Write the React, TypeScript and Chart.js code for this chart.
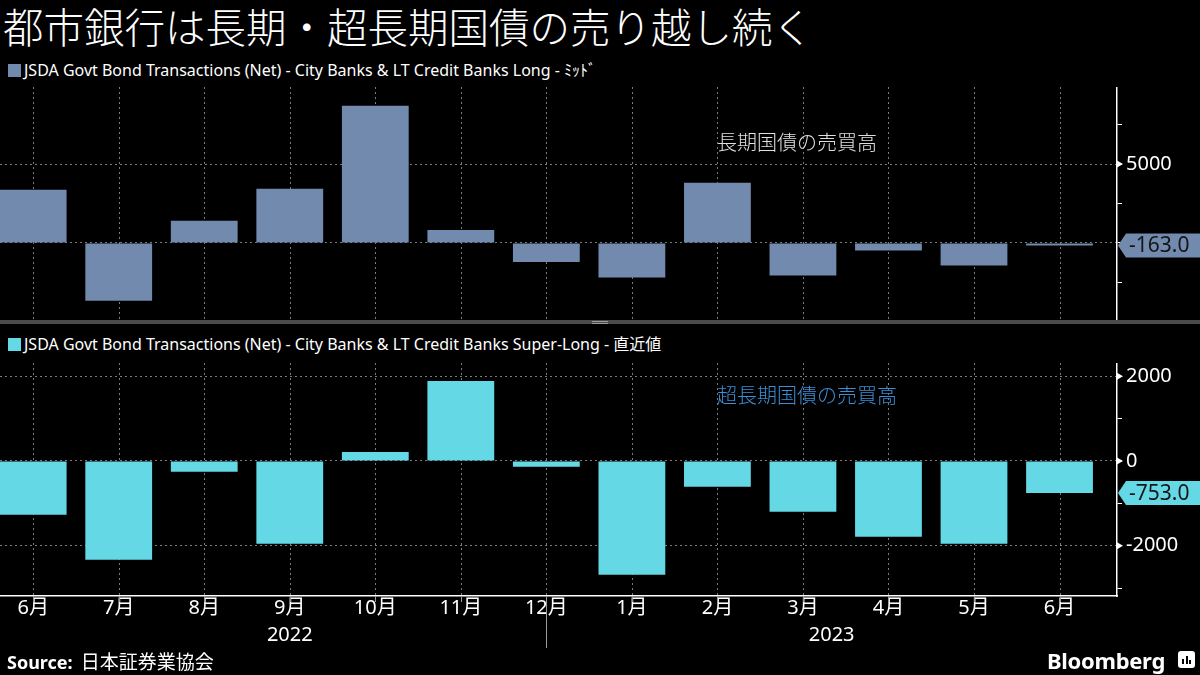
import React, { useEffect, useRef } from 'react';
import { Chart, registerables } from 'chart.js';
Chart.register(...registerables);

const months = ['6月', '7月', '8月', '9月', '10月', '11月', '12月', '1月', '2月', '3月', '4月', '5月', '6月'];
const years = ['2022', '2023'];
const longValues = [3369, -3665, 1398, 3432, 8708, 826, -1208, -2203, 3814, -2076, -487, -1441, -163];
const superLongValues = [-1268, -2331, -252, -1953, 213, 1890, -134, -2685, -606, -1197, -1787, -1953, -753];
const longTicks = [-2500, 0, 2500, 5000, 7500];
const longLabeled = [5000];
const longGrid = [0, 5000];
const superTicks = [-3000, -2000, -1000, 0, 1000, 2000];
const superLabeled = [-2000, 0, 2000];
const superGrid = [-2000, 0, 2000];

const LONG_COLOR = '#718aad';
const SUPER_COLOR = '#65d8e5';
const GRID_COLOR = '#7a7a7a';
const FONT = '"Noto Sans", "Noto Sans CJK JP", sans-serif';
const X_MIN = -0.388;
const X_MAX = 12.672;

type Cfg = {
  values: number[];
  color: string;
  yMin: number;
  yMax: number;
  yTicks: number[];
  labeled: number[];
  grid: number[];
  showX: boolean;
};

function makeConfig(c: Cfg): any {
  const decor = {
    id: 'decor',
    beforeDatasetsDraw(chart: any) {
      // vertical dashed gridlines at month centres
      const { ctx, chartArea, scales } = chart;
      const x = scales.x;
      ctx.save();
      ctx.strokeStyle = GRID_COLOR;
      ctx.lineWidth = 1;
      ctx.setLineDash([2, 3]);
      months.forEach((_, i) => {
        const px = Math.round(x.getPixelForValue(i)) + 0.5;
        ctx.beginPath();
        ctx.moveTo(px, chartArea.top);
        ctx.lineTo(px, chartArea.bottom);
        ctx.stroke();
      });
      ctx.restore();
    },
    afterDraw(chart: any) {
      const { ctx, chartArea, scales } = chart;
      const y = scales.y;
      const x = scales.x;
      ctx.save();
      // arrows at labeled ticks
      ctx.fillStyle = '#ffffff';
      c.labeled.forEach((v) => {
        const py = y.getPixelForValue(v);
        ctx.beginPath();
        ctx.moveTo(chartArea.right, py - 3.5);
        ctx.lineTo(chartArea.right + 6, py);
        ctx.lineTo(chartArea.right, py + 3.5);
        ctx.closePath();
        ctx.fill();
      });
      // last value tag
      const last = c.values[c.values.length - 1];
      const py = y.getPixelForValue(last);
      const left = chartArea.right + 1;
      const h = 24;
      ctx.fillStyle = c.color;
      ctx.beginPath();
      ctx.moveTo(left, py);
      ctx.lineTo(left + 8, py - h / 2);
      ctx.lineTo(chart.width, py - h / 2);
      ctx.lineTo(chart.width, py + h / 2);
      ctx.lineTo(left + 8, py + h / 2);
      ctx.closePath();
      ctx.fill();
      ctx.fillStyle = '#151515';
      ctx.font = '21px ' + FONT;
      ctx.textBaseline = 'middle';
      ctx.textAlign = 'left';
      ctx.fillText(last.toFixed(1), left + 11, py + 1);
      if (c.showX) {
        // month tick marks, year boundary line and year labels
        ctx.strokeStyle = '#9a9a9a';
        ctx.lineWidth = 1;
        months.forEach((_, i) => {
          const px = Math.round(x.getPixelForValue(i)) + 0.5;
          ctx.beginPath();
          ctx.moveTo(px, chartArea.bottom);
          ctx.lineTo(px, chartArea.bottom + (i === 6 ? 52 : 6));
          ctx.stroke();
        });
        const sep = x.getPixelForValue(6);
        ctx.fillStyle = '#ffffff';
        ctx.textAlign = 'center';
        ctx.font = '20px ' + FONT;
        ctx.fillText(years[0], x.getPixelForValue(3), chartArea.bottom + 39);
        ctx.fillText(years[1], (sep + chartArea.right) / 2, chartArea.bottom + 39);
      }
      ctx.restore();
    },
  };

  const noPad = (s: any) => {
    s.paddingTop = 0;
    s.paddingBottom = 0;
    s.paddingLeft = 0;
    s.paddingRight = 0;
  };

  return {
    type: 'bar',
    data: {
      datasets: [
        {
          data: c.values.map((v, i) => ({ x: i, y: v })),
          backgroundColor: c.color,
          borderWidth: 0,
          barPercentage: 0.781,
          categoryPercentage: 1,
        },
      ],
    },
    options: {
      animation: false,
      responsive: false,
      maintainAspectRatio: false,
      layout: { padding: 0 },
      plugins: { legend: { display: false }, tooltip: { enabled: false } },
      scales: {
        x: {
          type: 'linear',
          offset: false,
          min: X_MIN,
          max: X_MAX,
          afterBuildTicks: (s: any) => {
            s.ticks = months.map((_, i) => ({ value: i }));
          },
          afterFit: (s: any) => {
            s.height = c.showX ? 67 : 0;
            noPad(s);
          },
          ticks: {
            display: c.showX,
            autoSkip: false,
            maxRotation: 0,
            padding: 0,
            color: '#ffffff',
            font: { family: FONT, size: 20 },
            callback: (v: any) => months[v],
          },
          grid: {
            display: false,
            offset: false,
            drawTicks: false,
          },
          border: { display: c.showX, color: '#ffffff', width: 1.5 },
        },
        y: {
          position: 'right',
          min: c.yMin,
          max: c.yMax,
          afterBuildTicks: (s: any) => {
            s.ticks = c.yTicks.map((v) => ({ value: v }));
          },
          afterFit: (s: any) => {
            s.width = 83;
            noPad(s);
          },
          ticks: {
            color: '#ffffff',
            padding: 4,
            font: { family: FONT, size: 20 },
            callback: (v: any) => (c.labeled.includes(v) ? String(v) : ''),
          },
          grid: {
            color: (ctx: any) => (ctx.tick && c.grid.includes(ctx.tick.value) ? GRID_COLOR : 'rgba(0,0,0,0)'),
            lineWidth: 1,
            drawTicks: true,
            tickLength: 5,
            tickColor: '#ffffff',
            tickWidth: 1,
          },
          border: { display: true, color: '#ffffff', width: 1.5, dash: [2, 3] },
        },
      },
    },
    plugins: [decor],
  };
}

function BarPanel(props: { cfg: Cfg; top: number; height: number }) {
  const ref = useRef<HTMLCanvasElement>(null);
  useEffect(() => {
    if (!ref.current) return;
    const chart = new Chart(ref.current, makeConfig(props.cfg));
    return () => chart.destroy();
  }, []);
  return (
    <div style={{ position: 'absolute', left: 0, top: props.top, width: 1200, height: props.height }}>
      <canvas ref={ref} width={1200} height={props.height} style={{ display: 'block' }} />
    </div>
  );
}

const abs = (s: React.CSSProperties): React.CSSProperties => ({ position: 'absolute', whiteSpace: 'nowrap', ...s });

export default function App() {
  return (
    <div
      style={{
        position: 'fixed',
        left: 0,
        top: 0,
        width: 1200,
        height: 675,
        background: '#000000',
        overflow: 'hidden',
        fontFamily: FONT,
        color: '#ffffff',
      }}
    >
      <div style={abs({ left: 3, top: 1, fontSize: 40.5, lineHeight: '54px', fontWeight: 300 })}>
        都市銀行は長期・超長期国債の売り越し続く
      </div>
      <div style={abs({ left: 8, top: 58, fontSize: 16, lineHeight: '24px', display: 'flex', alignItems: 'center' })}>
        <span style={{ display: 'inline-block', width: 13, height: 13, background: LONG_COLOR, marginRight: 3 }} />
        JSDA Govt Bond Transactions (Net) - City Banks &amp; LT Credit Banks Long - ﾐｯﾄﾞ
      </div>
      <BarPanel
        top={87}
        height={233}
        cfg={{
          values: longValues,
          color: LONG_COLOR,
          yMin: -4892,
          yMax: 9892,
          yTicks: longTicks,
          labeled: longLabeled,
          grid: longGrid,
          showX: false,
        }}
      />
      <div style={abs({ left: 717, top: 129, fontSize: 20, lineHeight: '28px', color: '#e0e0e0', fontWeight: 300 })}>長期国債の売買高</div>
      <div style={abs({ left: 0, top: 320, width: 1200, height: 4, background: '#4a4a4a' })} />
      <div style={abs({ left: 592, top: 321, width: 16, height: 1, background: '#9a9a9a' })} />
      <div style={abs({ left: 592, top: 323, width: 16, height: 1, background: '#9a9a9a' })} />
      <div style={abs({ left: 8, top: 332, fontSize: 16, lineHeight: '24px', display: 'flex', alignItems: 'center' })}>
        <span style={{ display: 'inline-block', width: 13, height: 13, background: SUPER_COLOR, marginRight: 3 }} />
        JSDA Govt Bond Transactions (Net) - City Banks &amp; LT Credit Banks Super-Long - 直近値
      </div>
      <BarPanel
        top={363}
        height={300}
        cfg={{
          values: superLongValues,
          color: SUPER_COLOR,
          yMin: -3188,
          yMax: 2314,
          yTicks: superTicks,
          labeled: superLabeled,
          grid: superGrid,
          showX: true,
        }}
      />
      <div style={abs({ left: 717, top: 382, fontSize: 20, lineHeight: '28px', color: '#3a8fd8', fontWeight: 300 })}>超長期国債の売買高</div>
      <div style={abs({ left: 7, top: 649, fontSize: 18, lineHeight: '26px' })}>
        <span style={{ fontWeight: 700 }}>Source:</span>
        <span style={{ marginLeft: 8, fontSize: 19 }}>日本証券業協会</span>
      </div>
      <div style={abs({ left: 1047, top: 646, fontSize: 22, lineHeight: '28px', fontWeight: 700, letterSpacing: -0.3 })}>
        Bloomberg
      </div>
      <div
        style={abs({
          left: 1178,
          top: 651,
          width: 17,
          height: 17,
          background: '#ffffff',
          borderRadius: 3,
        })}
      >
        <div style={abs({ left: 4, top: 8, width: 2, height: 5, background: '#000' })} />
        <div style={abs({ left: 7.5, top: 5, width: 2, height: 8, background: '#000' })} />
        <div style={abs({ left: 11, top: 9, width: 2, height: 4, background: '#000' })} />
      </div>
    </div>
  );
}
